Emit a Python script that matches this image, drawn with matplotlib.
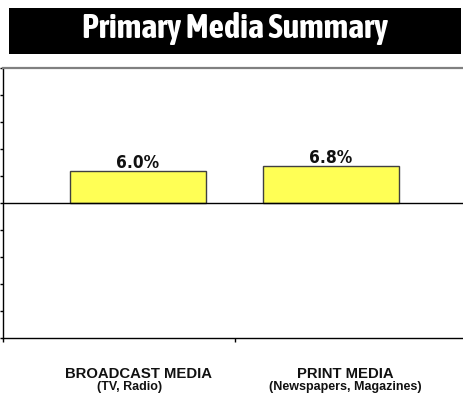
import numpy as np
import matplotlib
matplotlib.use("Agg")
import matplotlib.pyplot as plt
from matplotlib.patches import Rectangle

title = "Primary Media Summary"
categories = ["BROADCAST MEDIA", "PRINT MEDIA"]
subtitles = ["(TV, Radio)", "(Newspapers, Magazines)"]
values = [6.0, 6.8]

W, H, DPI = 463, 393, 100
fig = plt.figure(figsize=(W / DPI, H / DPI), dpi=DPI)

def px_to_fig(x0, y0, x1, y1):
    # pixel box (top-left origin) -> figure fraction rect
    return [x0 / W, (H - y1) / H, (x1 - x0) / W, (y1 - y0) / H]

# black title banner
bx = px_to_fig(9, 8, 461, 54)
fig.patches.append(Rectangle((bx[0], bx[1]), bx[2], bx[3], transform=fig.transFigure,
                             facecolor="black", edgecolor="none"))
fig.text(235 / W, (H - 38) / H, title, ha="center", va="baseline", color="white",
         fontsize=24.5, fontweight="bold", fontstretch="condensed",
         family=["Asap Condensed", "PT Sans Narrow", "DejaVu Sans"])

ax = fig.add_axes(px_to_fig(3, 68, 463, 338))
x = np.arange(len(categories))
ax.bar(x, values, width=0.705, color="#ffff55", edgecolor="#404040", linewidth=1.0, zorder=2)
ax.axhline(0, color="black", lw=1.0, zorder=3)

ax.set_xlim(-0.6995, 1.6839)
ax.set_ylim(-25, 25)
ax.set_yticks(np.arange(-25, 26, 5))
ax.set_yticklabels([])
ax.tick_params(axis="y", direction="out", length=2.5, width=1.0, color="black")
ax.set_xticks([-0.6995, 0.5])
ax.set_xticklabels([])
ax.tick_params(axis="x", direction="out", length=3, width=1.0, color="black")

ax.spines["right"].set_visible(False)
ax.spines["top"].set_color("#808080")
ax.spines["top"].set_linewidth(1.6)
ax.spines["left"].set_linewidth(1.0)
ax.spines["bottom"].set_linewidth(1.0)

for xi, v in zip(x, values):
    ax.annotate(f"{v:.1f}%", xy=(xi, v), xytext=(0, 2.2), textcoords="offset points",
                ha="center", va="baseline", fontsize=12.4, fontweight="bold",
                fontstretch="condensed", family="DejaVu Sans", color="#111111")

# category labels under the axis
name_dx = [0, 10.1]
sub_dx = [-5.8, 10.1]
for xi, name, sub, ndx, sdx in zip(x, categories, subtitles, name_dx, sub_dx):
    ax.annotate(name, xy=(xi, 0), xycoords=("data", "axes fraction"),
                xytext=(ndx, -28.8), textcoords="offset points",
                ha="center", va="baseline", fontsize=10.7, fontweight="bold",
                family="Liberation Sans", color="#111111")
    ax.annotate(sub, xy=(xi, 0), xycoords=("data", "axes fraction"),
                xytext=(sdx, -37.5), textcoords="offset points",
                ha="center", va="baseline", fontsize=9, fontweight="bold",
                family="Liberation Sans", color="#111111")

fig.savefig("out.png", dpi=DPI)
